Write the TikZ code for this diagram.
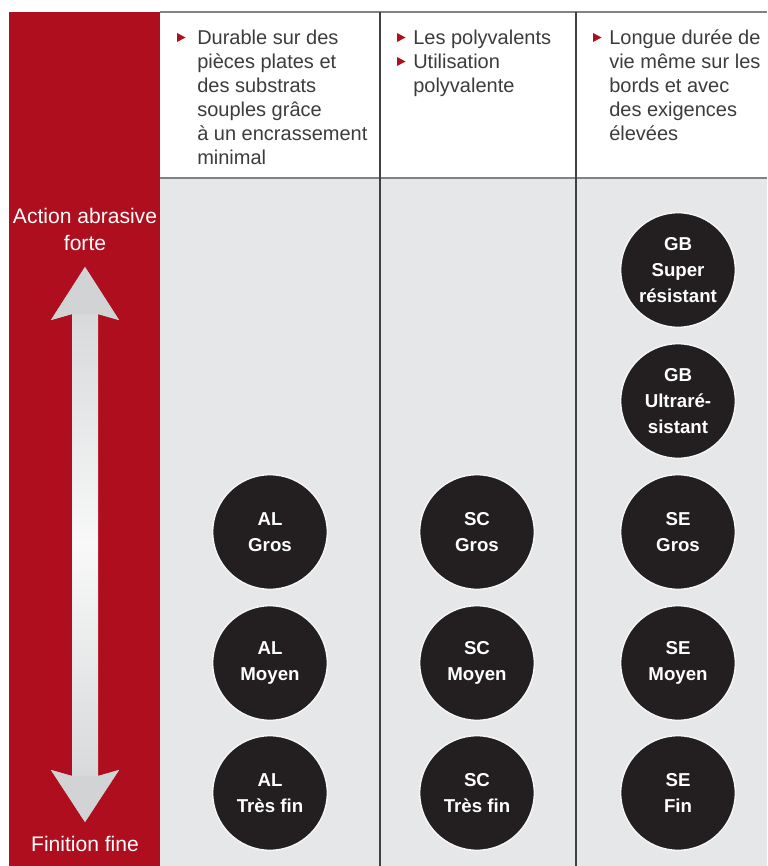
\documentclass[tikz,border=0pt]{standalone}
\usepackage{fontspec}
\setmainfont{Liberation Sans}
\definecolor{bandred}{HTML}{AF0E1E}
\definecolor{panelgray}{HTML}{E6E7E8}
\definecolor{arrowgray}{HTML}{D1D3D4}
\definecolor{rulegray}{HTML}{808285}
\definecolor{ruledark}{HTML}{414042}
\definecolor{txtgray}{HTML}{3C3C3C}
\definecolor{discfill}{HTML}{231F20}
\tikzset{
  hdr/.style={anchor=north west, inner sep=0pt, align=left, text=txtgray,
    font=\fontsize{15}{18}\selectfont},
  sidelbl/.style={inner sep=0pt, align=center, text=white,
    font=\fontsize{15.8}{20.25}\selectfont},
  disc/.style={circle, fill=discfill, draw=white!92!gray, line width=1.1pt,
    minimum size=86pt, inner sep=0pt, align=center, text=white,
    font=\fontsize{14}{19.5}\selectfont\bfseries},
  bul/.style={fill=bandred}
}
\newcommand\bultri[2]{\fill[bul] (#1,#2) ++(0,-4.5) -- ++(8.5,4.5) -- ++(-8.5,4.5) -- cycle;}
\begin{document}
\begin{tikzpicture}[x=0.75pt,y=-0.75pt]
\useasboundingbox (0,0) rectangle (767,866);
\fill[white] (0,0) rectangle (767,866);
% red band and grey panel
\fill[bandred] (9,12) rectangle (160,866);
\fill[panelgray] (160,178) rectangle (767,866);
% rules
\draw[rulegray, line width=0.9pt] (160,12) -- (767,12);
\draw[rulegray, line width=0.9pt] (160,178) -- (767,178);
\draw[ruledark, line width=0.9pt] (380,12) -- (380,866);
\draw[ruledark, line width=0.9pt] (576,12) -- (576,866);
% header texts
\node[hdr] (h1) at (197,29.5) {Durable sur des\\pièces plates et\\des substrats\\souples grâce\\à un encrassement\\minimal};
\node[hdr] (h2) at (413,29.5) {Les polyvalents\\Utilisation\\polyvalente};
\node[hdr] (h3) at (609,29.5) {Longue durée de\\vie même sur les\\bords et avec\\des exigences\\élevées};
\bultri{177}{37.5}
\bultri{397}{37.5}
\bultri{397}{61.5}
\bultri{593}{37.5}
% double arrow
\path[top color=arrowgray, bottom color=arrowgray, middle color=white!85!arrowgray]
  (85,267) -- (119,320) -- (98,314) -- (98,776) -- (119,770) -- (85,822)
  -- (51,770) -- (72,776) -- (72,314) -- (51,320) -- cycle;
\fill[arrowgray] (85,267) -- (119,320) -- (98,314) -- (72,314) -- (51,320) -- cycle;
\fill[arrowgray] (85,822) -- (119,770) -- (98,776) -- (72,776) -- (51,770) -- cycle;
% side labels
\node[sidelbl, anchor=north] (strong) at (85,208) {Action abrasive\\forte};
\node[sidelbl, anchor=base] (fine) at (85,851) {Finition fine};
% discs
\node[disc] (gb1) at (678,270) {GB\\Super\\résistant};
\node[disc] (gb2) at (678,401) {GB\\Ultraré-\\sistant};
\node[disc] (al1) at (270,532) {AL\\Gros};
\node[disc] (al2) at (270,663) {AL\\Moyen};
\node[disc] (al3) at (270,793) {AL\\Très fin};
\node[disc] (sc1) at (477,532) {SC\\Gros};
\node[disc] (sc2) at (477,663) {SC\\Moyen};
\node[disc] (sc3) at (477,793) {SC\\Très fin};
\node[disc] (se1) at (678,532) {SE\\Gros};
\node[disc] (se2) at (678,663) {SE\\Moyen};
\node[disc] (se3) at (678,793) {SE\\Fin};
\end{tikzpicture}
\end{document}
